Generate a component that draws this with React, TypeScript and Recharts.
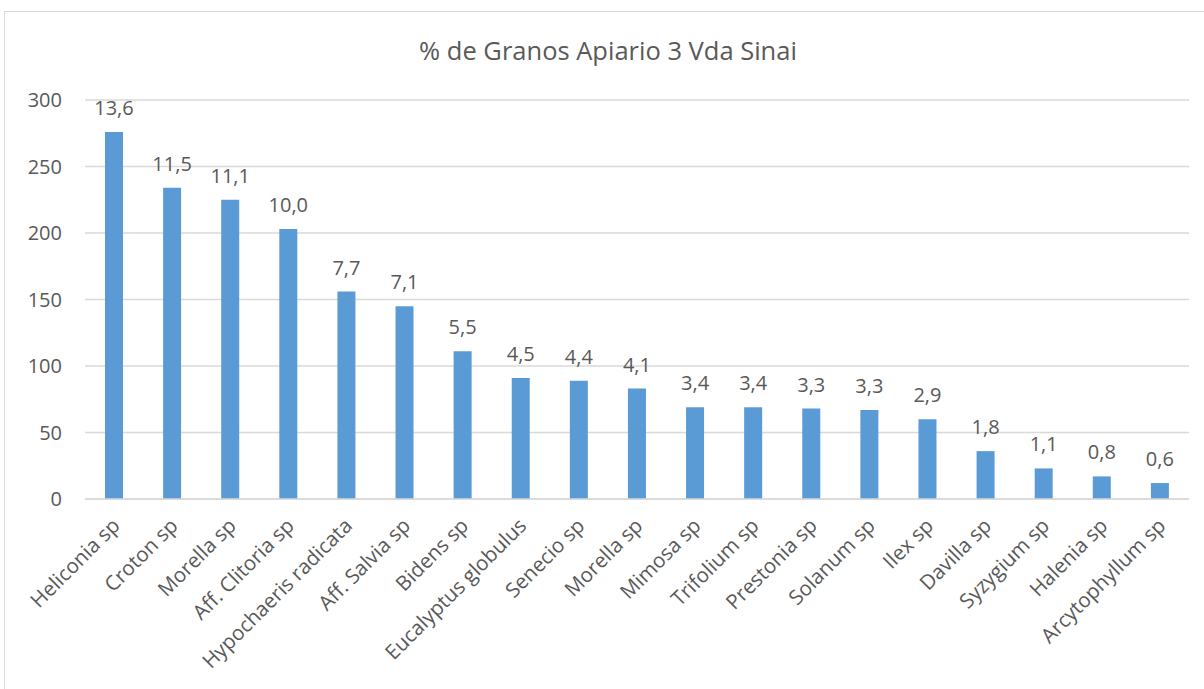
import React from 'react';
import { BarChart, Bar, XAxis, YAxis, CartesianGrid, LabelList } from 'recharts';

const categories = [
  'Heliconia sp', 'Croton sp', 'Morella sp', 'Aff. Clitoria sp', 'Hypochaeris radicata',
  'Aff. Salvia sp', 'Bidens sp', 'Eucalyptus globulus', 'Senecio sp', 'Morella sp ',
  'Mimosa sp', 'Trifolium sp', 'Prestonia sp', 'Solanum sp', 'Ilex sp',
  'Davilla sp', 'Syzygium sp', 'Halenia sp', 'Arcytophyllum sp',
];
const grains = [276, 234, 225, 203, 156, 145, 111, 91, 89, 83, 69, 69, 68, 67, 60, 36, 23, 17, 12];
const percentLabels = ['13,6', '11,5', '11,1', '10,0', '7,7', '7,1', '5,5', '4,5', '4,4', '4,1', '3,4', '3,4', '3,3', '3,3', '2,9', '1,8', '1,1', '0,8', '0,6'];
const yTicks = [0, 50, 100, 150, 200, 250, 300];

const data = categories.map((name, i) => ({ name, value: grains[i], pct: percentLabels[i] }));

const FONT = '"Open Sans", sans-serif';
const TEXT = '#595959';

const XTick = (props: any) => {
  const { x, y, payload } = props;
  const ax = x + 7;
  const ay = y + 20;
  return (
    <text
      x={ax}
      y={ay}
      transform={`rotate(-45, ${ax}, ${ay})`}
      textAnchor="end"
      fill={TEXT}
      fontSize={20.5}
      fontFamily={FONT}
    >
      {String(payload.value).trim()}
    </text>
  );
};

const PctLabel = (props: any) => {
  const { x, y, width, index } = props;
  return (
    <text x={x + width / 2} y={y - 17} textAnchor="middle" fill={TEXT} fontSize={20} fontFamily={FONT}>
      {percentLabels[index]}
    </text>
  );
};

export default function App() {
  return (
    <div style={{ position: 'absolute', left: 0, top: 0, width: 1204, height: 689, overflow: 'hidden', background: '#fff' }}>
      <div style={{ position: 'absolute', left: 4, top: 11, width: 1220, height: 720, border: '1px solid #d9d9d9', boxSizing: 'border-box' }} />
      <div style={{ position: 'absolute', left: 6, top: 33, width: 1204, textAlign: 'center', fontFamily: FONT, fontSize: 25.5, color: TEXT, lineHeight: '34px' }}>
        % de Granos Apiario 3 Vda Sinai
      </div>
      <div style={{ position: 'absolute', left: 0, top: 0 }}>
        <BarChart width={1204} height={689} data={data} margin={{ top: 100, right: 15, bottom: 0, left: 0 }} barCategoryGap={0}>
          <CartesianGrid vertical={false} stroke="#d9d9d9" strokeWidth={1.3} />
          <XAxis dataKey="name" interval={0} height={190} tickLine={false} axisLine={{ stroke: '#d9d9d9', strokeWidth: 1.3 }} tick={<XTick />} />
          <YAxis width={85} domain={[0, 300]} ticks={yTicks} tickLine={false} axisLine={false} tickMargin={23} tickSize={0}
            tick={{ fill: TEXT, fontSize: 20, fontFamily: FONT }} />
          <Bar dataKey="value" fill="#5B9BD5" barSize={18} isAnimationActive={false}>
            <LabelList dataKey="pct" content={<PctLabel />} />
          </Bar>
        </BarChart>
      </div>
    </div>
  );
}
